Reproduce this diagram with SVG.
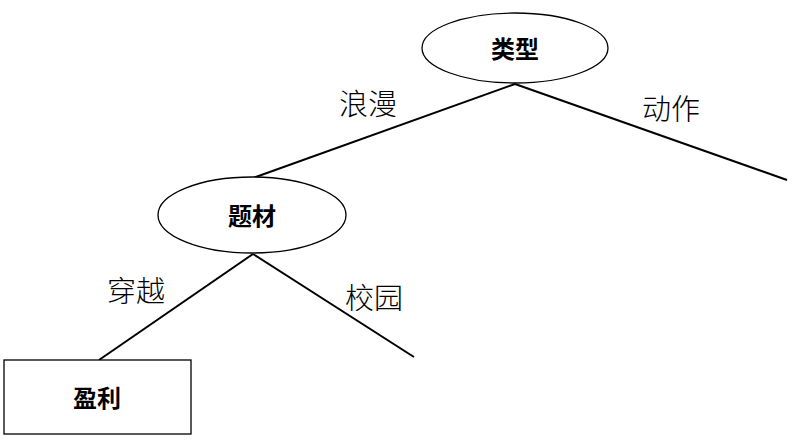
<svg xmlns="http://www.w3.org/2000/svg" width="795" height="445" viewBox="0 0 795 445">
<style>
.node{fill:#fff;stroke:#000;stroke-width:1.3}
.edge{stroke:#000;stroke-width:2;fill:none}
.nt{font-family:"Noto Sans CJK SC","Liberation Serif",serif;font-size:24px;font-weight:bold;text-anchor:middle;dominant-baseline:central;fill:#000}
.lt{font-family:"Noto Sans CJK SC","Liberation Serif",serif;font-size:29px;font-weight:300;text-anchor:middle;dominant-baseline:central;fill:#000}
</style>
<rect width="795" height="445" fill="#fff"/>
<g id="connectors">
<line class="edge" x1="515" y1="84" x2="250" y2="179"/>
<line class="edge" x1="515" y1="84" x2="787" y2="180"/>
<line class="edge" x1="253" y1="254" x2="99" y2="360"/>
<line class="edge" x1="253" y1="254" x2="414" y2="357"/>
<text class="lt" x="368" y="102">浪漫</text>
<text class="lt" x="671" y="107">动作</text>
<text class="lt" x="136" y="289">穿越</text>
<text class="lt" x="374" y="296">校园</text>
</g>
<g id="node-leixing">
<ellipse class="node" cx="515" cy="48" rx="93" ry="35"/>
<text class="nt" x="515" y="47">类型</text>
</g>
<g id="node-ticai">
<ellipse class="node" cx="252" cy="215" rx="94" ry="38"/>
<text class="nt" x="252" y="214">题材</text>
</g>
<g id="node-yingli">
<rect class="node" x="4" y="360" width="187" height="74"/>
<text class="nt" x="97" y="396">盈利</text>
</g>
</svg>
